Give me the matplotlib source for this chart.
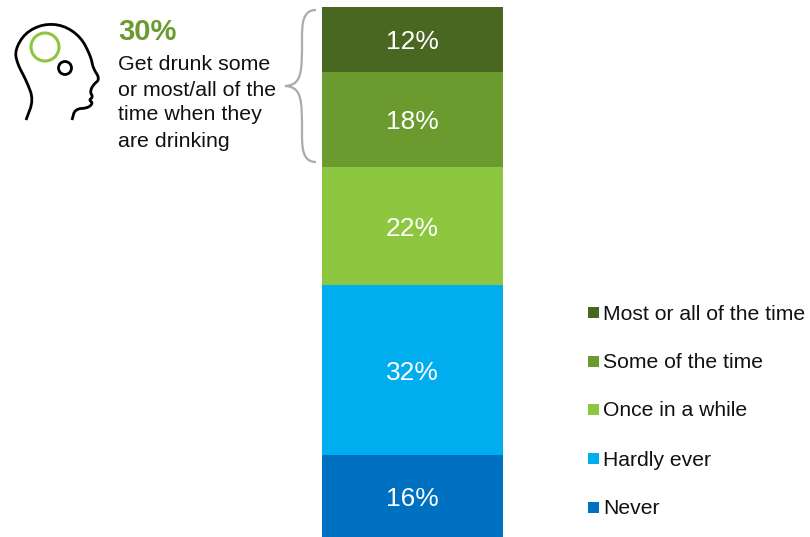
import numpy as np
import matplotlib
matplotlib.use("Agg")
import matplotlib.pyplot as plt
from matplotlib.patches import Circle, PathPatch, Rectangle
from matplotlib.path import Path

W, H = 810, 537

categories = ["Never", "Hardly ever", "Once in a while", "Some of the time", "Most or all of the time"]
values = [15.5, 32.0, 22.3, 17.9, 12.3]
labels = ["16%", "32%", "22%", "18%", "12%"]
colors = ["#0070C0", "#00AEEF", "#8DC63F", "#6B9A2E", "#4A6721"]
GREEN = "#6B9A2E"

head_pts = [(26, 120), (33.5, 100), (27, 82), (17, 63), (15, 50), (25, 33), (43, 24), (63, 25),
            (81, 37), (91, 57), (93, 68), (100, 79), (93, 85), (90, 92), (93, 97), (89, 100),
            (93, 103), (88, 108), (75, 109), (72, 120)]
brace_verts = [(316, 10), (302, 10), (302, 25), (302, 40), (302, 72), (302, 85), (285, 86),
               (302, 87), (302, 100), (302, 132), (302, 147), (302, 162), (316, 162)]


def smooth(pts, n=2):
    # corner cutting, keeps the end points
    pts = np.array(pts, dtype=float)
    for _ in range(n):
        q = pts[:-1] * 0.75 + pts[1:] * 0.25
        r = pts[:-1] * 0.25 + pts[1:] * 0.75
        mid = np.empty((len(q) * 2, 2))
        mid[0::2] = q
        mid[1::2] = r
        pts = np.vstack([pts[0], mid, pts[-1]])
    return pts


plt.rcParams["font.family"] = ["Liberation Sans", "DejaVu Sans"]
fig = plt.figure(figsize=(W / 100, H / 100), dpi=100)

# bar axes
ax = fig.add_axes([322 / W, 0, (503 - 322) / W, (537 - 7) / H])
bottom = 0
for v, lab, c in zip(values, labels, colors):
    ax.bar(0, v, width=1, bottom=bottom, color=c)
    ax.text(0, bottom + v / 2 - 0.5, lab, color="white", fontsize=19, ha="center", va="center")
    bottom += v
ax.set_xlim(-0.5, 0.5)
ax.set_ylim(0, 100)
ax.axis("off")

# overlay in pixel coordinates for icon, brace, text, legend
ov = fig.add_axes([0, 0, 1, 1])
ov.set_xlim(0, W)
ov.set_ylim(H, 0)
ov.axis("off")

xy = smooth(head_pts)
ov.plot(xy[:, 0], xy[:, 1], color="black", lw=2.0, solid_capstyle="butt")
ov.add_patch(Circle((45, 47), 14, fill=False, ec="#8DC63F", lw=2.2))
ov.add_patch(Circle((65, 68), 6.5, fill=False, ec="black", lw=2.0))

codes = [Path.MOVETO] + [Path.CURVE4] * 12
ov.add_patch(PathPatch(Path(brace_verts, codes), fill=False, ec="#ABABAB", lw=1.6))

ov.text(118, 32, "30%", color=GREEN, fontsize=21, fontweight="bold", ha="left", va="center")
for y, line in zip([64, 90, 115, 141.5], ["Get drunk some", "or most/all of the", "time when they", "are drinking"]):
    ov.text(118, y, line, color="#111111", fontsize=15.4, ha="left", va="center")

leg_y = [313, 362, 410, 459, 508]
for y, name, c in zip(leg_y, categories[::-1], colors[::-1]):
    ov.add_patch(Rectangle((588, y - 6), 11, 11, color=c, lw=0))
    ov.text(603, y + 1, name, color="#111111", fontsize=15.2, ha="left", va="center")

fig.savefig("out.png", dpi=100)
